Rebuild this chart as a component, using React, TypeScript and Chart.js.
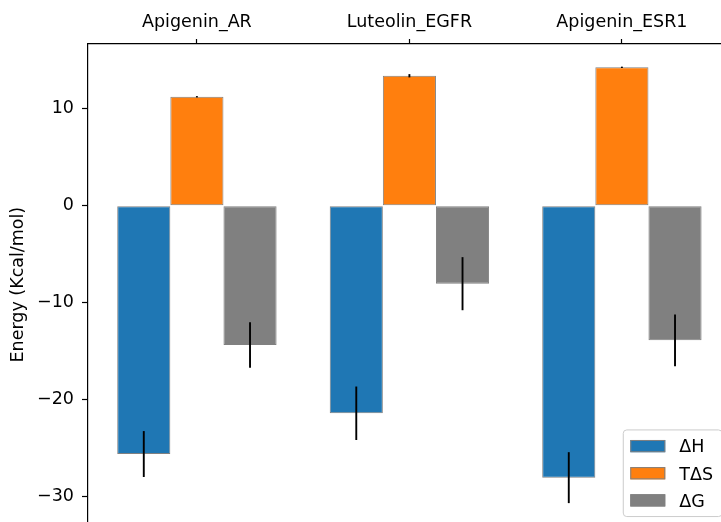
import React, { useEffect, useRef } from 'react';
import { Chart, registerables, CategoryScale } from 'chart.js';

// ---- data ----
const categories = ['Apigenin_AR', 'Luteolin_EGFR', 'Apigenin_ESR1'];
const seriesLabels = ['\u0394H', 'T\u0394S', '\u0394G'];
const deltaH = [-25.64, -21.43, -28.08];
const deltaHErr = [2.37, 2.76, 2.63];
const tDeltaS = [11.25, 13.42, 14.29];
const tDeltaSErr = [0.07, 0.17, 0.07];
const deltaG = [-14.38, -8.05, -13.9];
const deltaGErr = [2.35, 2.74, 2.68];
const seriesColors = ['#1f77b4', '#ff7f0e', '#808080'];
const yTicks = [-30, -20, -10, 0, 10];
const yMin = -33;
const yMax = 16.7;
const yTitle = 'Energy (Kcal/mol)';

const FONT = "'DejaVu Sans', sans-serif";
const FS = 17.5;

class PaddedCategoryScale extends CategoryScale {
  static id = 'paddedCategory';
  static defaults = CategoryScale.defaults;
  buildTicks() {
    const ticks = super.buildTicks();
    const pad = (this as any).options.edgePad || 0;
    const offset = (this as any).options.offset;
    const n = (this as any).max - (this as any).min + 1;
    (this as any)._startValue = (this as any).min - (offset ? 0.5 : 0) - pad;
    (this as any)._valueRange = Math.max(n - (offset ? 0 : 1), 1) + 2 * pad;
    return ticks;
  }
}

Chart.register(...registerables, PaddedCategoryScale);

const errorBarPlugin = {
  id: 'errorBars',
  afterDatasetsDraw(chart: any) {
    const { ctx } = chart;
    const y = chart.scales.y;
    ctx.save();
    ctx.strokeStyle = '#000';
    ctx.lineWidth = 1.9;
    ctx.lineCap = 'butt';
    chart.data.datasets.forEach((ds: any, i: number) => {
      const meta = chart.getDatasetMeta(i);
      meta.data.forEach((bar: any, j: number) => {
        const v = ds.data[j];
        const e = ds.errors[j];
        ctx.beginPath();
        ctx.moveTo(bar.x, y.getPixelForValue(v - e));
        ctx.lineTo(bar.x, y.getPixelForValue(v + e));
        ctx.stroke();
      });
    });
    ctx.restore();
  },
};

const legendPlugin = {
  id: 'mplLegend',
  afterDraw(chart: any) {
    const { ctx, chartArea } = chart;
    const fs = FS;
    ctx.save();
    ctx.font = `${fs}px ${FONT}`;
    const items = chart.data.datasets.map((ds: any) => ({ label: ds.label, color: ds.backgroundColor }));
    const pad = 0.4 * fs;
    const handleLen = 2 * fs;
    const handleH = 0.7 * fs;
    const textPad = 0.8 * fs;
    const labelSp = 0.5 * fs;
    const rowH = 1.05 * fs;
    const axPad = 0.5 * fs;
    const textW = Math.max(...items.map((it: any) => ctx.measureText(it.label).width));
    const w = pad * 2 + handleLen + textPad + textW + 2;
    const h = pad * 2 + items.length * rowH + (items.length - 1) * labelSp;
    const right = chartArea.right - axPad;
    const bottom = chartArea.bottom - axPad;
    const left = right - w;
    const top = bottom - h;
    ctx.beginPath();
    ctx.roundRect(left, top, w, h, 0.2 * fs);
    ctx.fillStyle = 'rgba(255,255,255,0.8)';
    ctx.fill();
    ctx.strokeStyle = '#cccccc';
    ctx.lineWidth = 1;
    ctx.stroke();
    items.forEach((it: any, k: number) => {
      const cy = top + pad + rowH / 2 + k * (rowH + labelSp);
      const hx = left + pad;
      ctx.fillStyle = it.color;
      ctx.fillRect(hx, cy - handleH / 2, handleLen, handleH);
      ctx.strokeStyle = '#808080';
      ctx.lineWidth = 1;
      ctx.strokeRect(hx + 0.5, cy - handleH / 2 + 0.5, handleLen - 1, handleH - 1);
      ctx.fillStyle = '#000';
      ctx.textAlign = 'left';
      ctx.textBaseline = 'alphabetic';
      ctx.fillText(it.label, hx + handleLen + textPad, cy + (0.729 * fs) / 2);
    });
    ctx.restore();
  },
};

export default function App() {
  const canvasRef = useRef<HTMLCanvasElement | null>(null);

  useEffect(() => {
    const canvas = canvasRef.current;
    if (!canvas) return;
    const font = { family: FONT, size: FS };
    const mk = (i: number, data: number[], errors: number[]) => ({
      label: seriesLabels[i],
      data,
      errors,
      backgroundColor: seriesColors[i],
      borderColor: '#808080',
      borderWidth: 1,
      borderSkipped: false,
    });
    const chart = new Chart(canvas, {
      type: 'bar',
      data: {
        labels: categories,
        datasets: [mk(0, deltaH, deltaHErr), mk(1, tDeltaS, tDeltaSErr), mk(2, deltaG, deltaGErr)] as any,
      },
      options: {
        animation: false,
        responsive: false,
        devicePixelRatio: 1,
        layout: { padding: { left: 0, top: 0, right: 9.2, bottom: 14.7 } },
        datasets: { bar: { categoryPercentage: 0.75, barPercentage: 1 } },
        plugins: { legend: { display: false }, tooltip: { enabled: false } },
        scales: {
          x: {
            type: 'paddedCategory',
            edgePad: 0.0125,
            position: 'top',
            offset: true,
            grid: {
              display: true,
              offset: false,
              drawOnChartArea: false,
              drawTicks: true,
              tickLength: 5,
              color: '#000',
              tickWidth: 1.2,
            },
            border: { display: true, color: '#000', width: 1.2 },
            ticks: { color: '#000', font, padding: 6, maxRotation: 0, autoSkip: false },
            afterFit: (s: any) => {
              s.height = 44;
              s.paddingLeft = 0;
              s.paddingRight = 0;
              s.paddingTop = 0;
              s.paddingBottom = 0;
            },
          } as any,
          y: {
            type: 'linear',
            min: yMin,
            max: yMax,
            afterBuildTicks: (s: any) => {
              s.ticks = yTicks.map((v) => ({ value: v }));
            },
            grid: {
              display: true,
              drawOnChartArea: false,
              drawTicks: true,
              tickLength: 6,
              color: '#000',
              tickWidth: 1.2,
            },
            border: { display: true, color: '#000', width: 1.2 },
            ticks: {
              color: '#000',
              font,
              padding: 8,
              callback: (v: any) => String(v).replace('-', '\u2212'),
            },
            title: {
              display: true,
              text: yTitle,
              color: '#000',
              font,
              padding: { top: 7.5, bottom: 0 },
            },
            afterFit: (s: any) => {
              s.width = 88;
              s.paddingLeft = 0;
              s.paddingRight = 0;
              s.paddingTop = 0;
              s.paddingBottom = 0;
            },
          },
        },
      } as any,
      plugins: [errorBarPlugin, legendPlugin],
    });
    return () => chart.destroy();
  }, []);

  return (
    <div
      style={{
        position: 'fixed',
        left: 0,
        top: 0,
        width: 721,
        height: 522,
        overflow: 'hidden',
        background: '#fff',
      }}
    >
      <canvas ref={canvasRef} width={740} height={540} style={{ display: 'block' }} />
    </div>
  );
}
